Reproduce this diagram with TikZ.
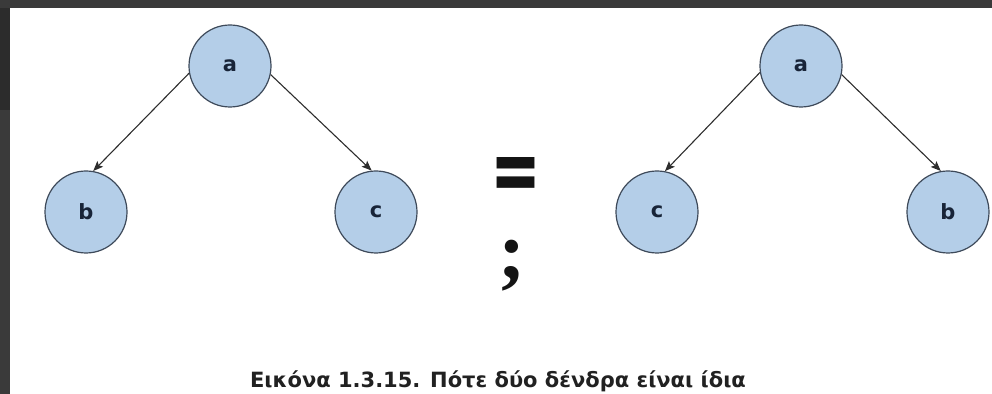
\documentclass[tikz,border=0pt]{standalone}
\usepackage{fontspec}
\usepackage{graphicx}
\setmainfont{DejaVu Sans}
\newfontfamily\signfont{Poppins}
\newfontfamily\markfont{Liberation Serif}
\usetikzlibrary{arrows.meta}
\definecolor{nodefill}{RGB}{180,206,232}
\definecolor{nodeline}{RGB}{62,74,90}
\definecolor{nodetext}{RGB}{24,36,56}
\definecolor{edgecol}{RGB}{45,45,45}
\definecolor{framedark}{RGB}{58,58,58}
\definecolor{framedeep}{RGB}{44,44,44}

\begin{document}
\begin{tikzpicture}[
    x=0.5pt, y=-0.5pt,
    treenode/.style={
        circle,
        draw=nodeline,
        line width=0.6pt,
        fill=nodefill,
        minimum size=41pt,
        inner sep=0pt,
        text=nodetext,
        font=\bfseries\fontsize{10.5}{12}\selectfont
    },
    edge/.style={-{Stealth[length=5pt,width=4pt,inset=1pt]}, line width=0.55pt, edgecol},
    sign/.style={inner sep=0pt, text=black!92, align=center, font=\bfseries\fontsize{10}{39.5pt}\selectfont}
]
\useasboundingbox (0,0) rectangle (992,394);

% Frame
\fill[framedark] (0,0) rectangle (992,8);
\fill[framedeep] (0,8) rectangle (10,110);
\fill[framedark] (0,110) rectangle (10,394);

% First tree
\node[treenode] (a1) at (230,66) {a};
\node[treenode] (b1) at (86,212) {b};
\node[treenode] (c1) at (376,212) {c};

% Second tree
\node[treenode] (a2) at (801,66) {a};
\node[treenode] (c2) at (657,212) {c};
\node[treenode] (b2) at (948,212) {b};

% Arrows
\draw[edge] (a1.190) -- (b1.80);
\draw[edge] (a1.348) -- (c1.96);
\draw[edge] (a2.189) -- (c2.79);
\draw[edge] (a2.348) -- (b2.100);

% Question
\node[sign, anchor=north] (qm) at (514,157) {\hspace*{2pt}{\signfont\resizebox{23.5pt}{21pt}{=}}\\{\markfont\resizebox*{!}{25.5pt}{;}}\hspace*{2pt}};

% Caption
\node[inner sep=0pt, anchor=base, font=\bfseries\fontsize{10.5}{12}\selectfont, text=black!87] (cap) at (498,388) {Εικόνα 1.3.15. Πότε δύο δένδρα είναι ίδια};

\end{tikzpicture}
\end{document}
